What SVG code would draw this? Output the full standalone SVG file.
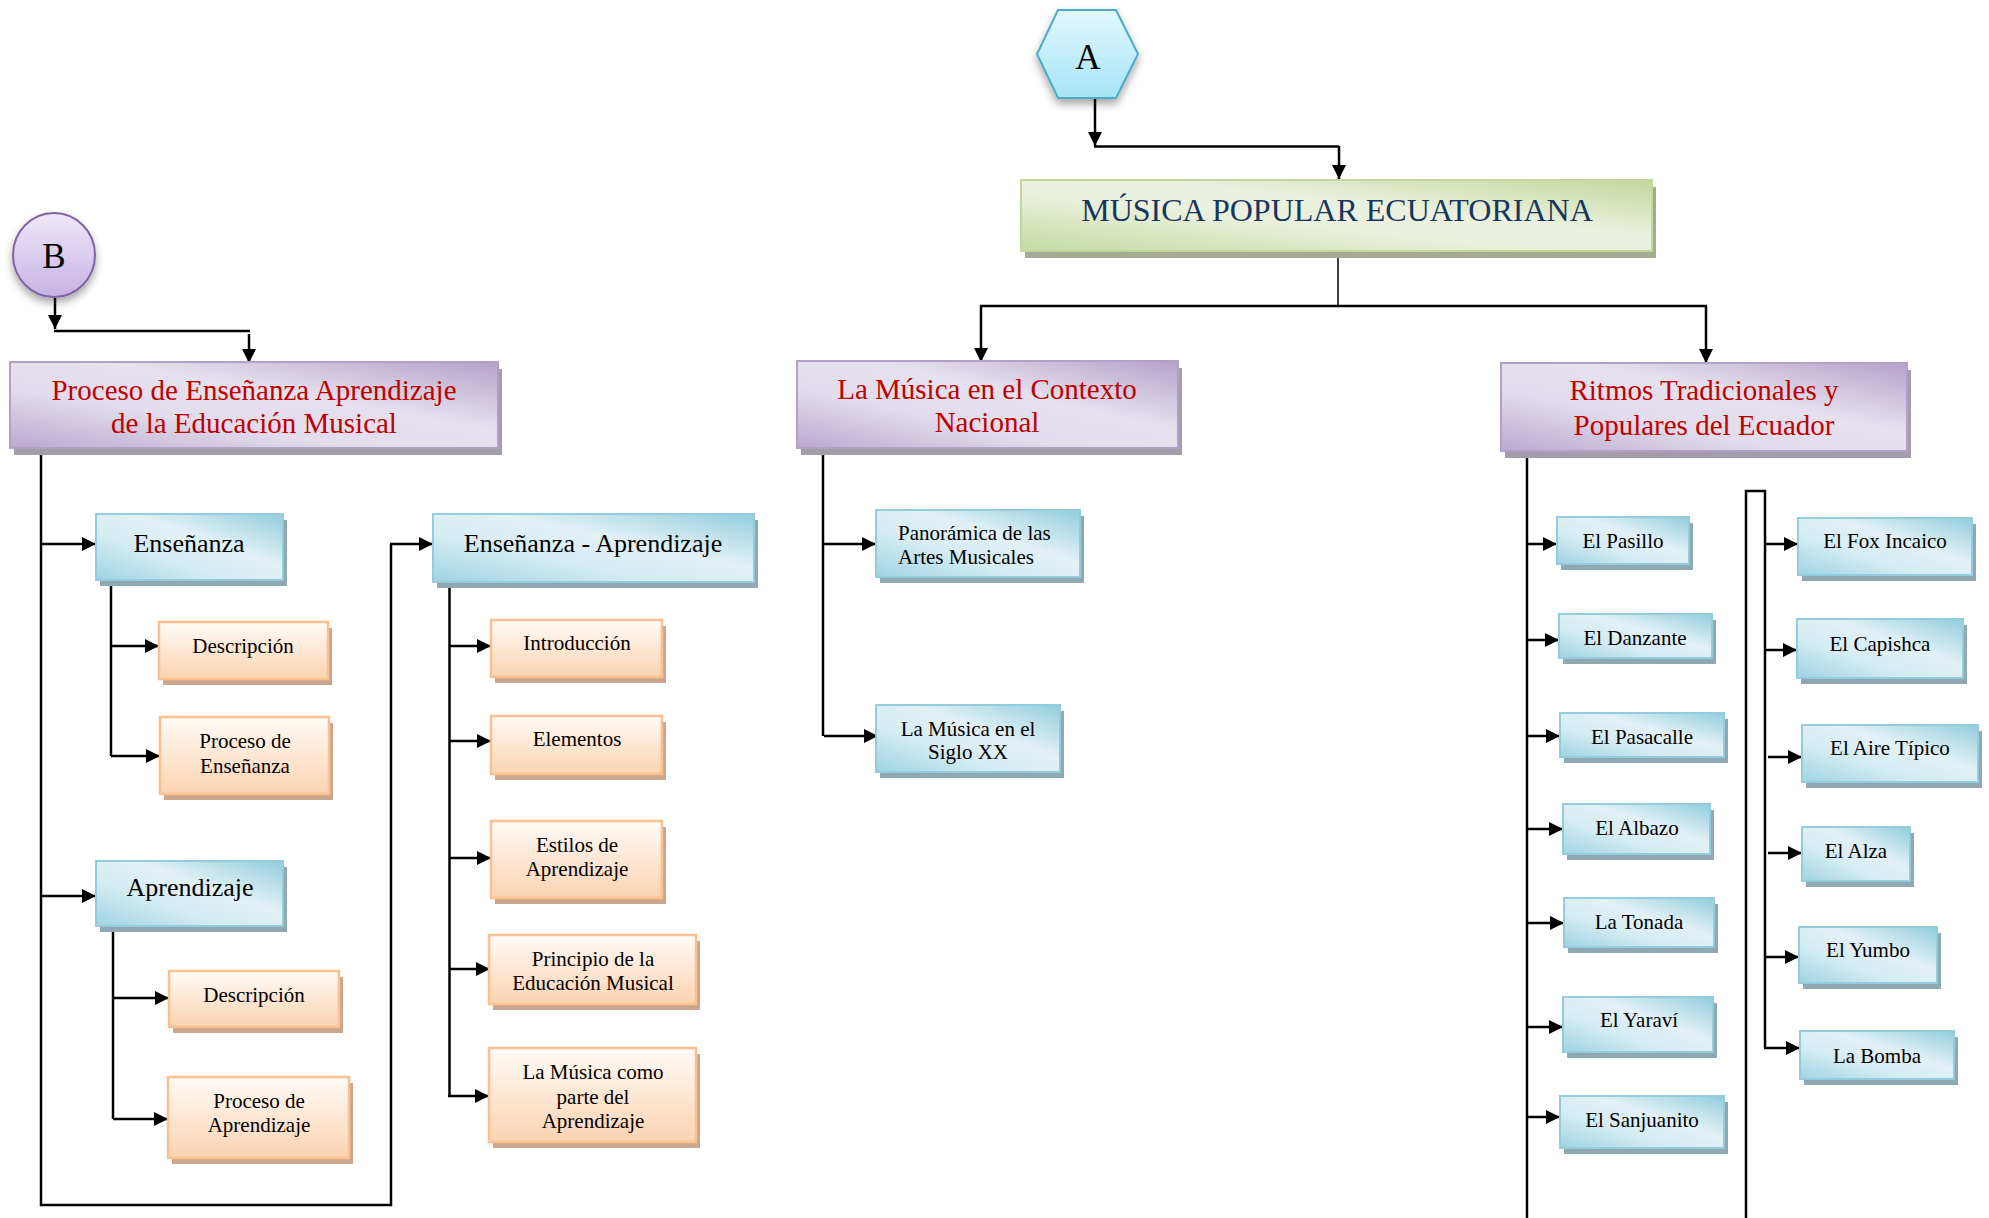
<svg xmlns="http://www.w3.org/2000/svg" width="1989" height="1218" viewBox="0 0 1989 1218">
<defs>
<linearGradient id="gBlue" x1="0" y1="1" x2="1" y2="0">
<stop offset="0" stop-color="#9ed3e2"/>
<stop offset="0.35" stop-color="#d5ecf3"/>
<stop offset="0.6" stop-color="#e2f1f6"/>
<stop offset="1" stop-color="#92cddc"/>
</linearGradient>
<linearGradient id="gOrange" x1="0" y1="0" x2="0" y2="1">
<stop offset="0" stop-color="#fffbf7"/>
<stop offset="1" stop-color="#fbd3b1"/>
</linearGradient>
<linearGradient id="gPurple" x1="0" y1="1" x2="1" y2="0">
<stop offset="0" stop-color="#b9a9cf"/>
<stop offset="0.35" stop-color="#e2dcec"/>
<stop offset="0.6" stop-color="#e6e1ee"/>
<stop offset="1" stop-color="#b3a2c9"/>
</linearGradient>
<linearGradient id="gGreen" x1="0" y1="1" x2="1" y2="0">
<stop offset="0" stop-color="#c5d9a1"/>
<stop offset="0.4" stop-color="#e9f0dc"/>
<stop offset="0.6" stop-color="#ebf1df"/>
<stop offset="1" stop-color="#c3d69b"/>
</linearGradient>
<linearGradient id="gHex" x1="0" y1="0" x2="0" y2="1">
<stop offset="0" stop-color="#e3f7fd"/>
<stop offset="1" stop-color="#a5e5f7"/>
</linearGradient>
<linearGradient id="gCirc" x1="0" y1="0" x2="0" y2="1">
<stop offset="0" stop-color="#eee8f8"/>
<stop offset="1" stop-color="#c6b2e4"/>
</linearGradient>
<filter id="soft" x="-30%" y="-30%" width="160%" height="170%">
<feDropShadow dx="0" dy="5" stdDeviation="4" flood-color="#000" flood-opacity="0.35"/>
</filter>
<marker id="arr" viewBox="0 0 10 10" refX="10" refY="5" markerUnits="userSpaceOnUse" markerWidth="14" markerHeight="14" orient="auto">
<path d="M0,0 L10,5 L0,10 z" fill="#000"/>
</marker>
</defs>
<style>
text{font-family:"Liberation Serif","Times New Roman",serif;text-anchor:middle;fill:#000}
.blue{fill:url(#gBlue);stroke:#93cddd;stroke-width:2}
.bsh{fill:#8fa9b2}
.org{fill:url(#gOrange);stroke:#fac090;stroke-width:2.5}
.osh{fill:#c9a68d}
.pur{fill:url(#gPurple);stroke:#b2a1c7;stroke-width:2}
.psh{fill:#a39cab}
.grn{fill:url(#gGreen);stroke:#c3d69b;stroke-width:2}
.gsh{fill:#a5aa92}
.t29{font-size:29px;fill:#c00000}
.t32{font-size:32px;fill:#17365d}
.t26{font-size:26px}
.t21{font-size:21px}
.ln{fill:none;stroke:#000;stroke-width:2.5}
.la{fill:none;stroke:#000;stroke-width:2.5;marker-end:url(#arr)}
</style>

<g id="connectors">
<path class="la" d="M1095,99 V146"/>
<path class="ln" d="M1094,146.5 H1339"/>
<path class="la" d="M1339,146 V179"/>
<path class="ln" d="M1338,251 V306" style="stroke-width:1.5"/>
<path class="ln" d="M980,306 H1707"/>
<path class="la" d="M981,306 V362"/>
<path class="la" d="M1706,306 V363"/>
<path class="la" d="M55,298 V329"/>
<path class="ln" d="M54,331 H250"/>
<path class="la" d="M249,334 V363"/>
<path class="ln" d="M41,448 V1205 H391 V544"/>
<path class="la" d="M390,544 H433"/>
<path class="la" d="M41,544 H96"/>
<path class="la" d="M41,896 H96"/>
<path class="ln" d="M111,580 V756"/>
<path class="la" d="M111,646 H159"/>
<path class="la" d="M111,756 H160"/>
<path class="ln" d="M113,926 V1119"/>
<path class="la" d="M113,998 H169"/>
<path class="la" d="M113,1119 H168"/>
<path class="ln" d="M449.5,582 V1096"/>
<path class="la" d="M449,646 H491"/>
<path class="la" d="M449,741 H491"/>
<path class="la" d="M449,858 H491"/>
<path class="la" d="M449,969 H490"/>
<path class="la" d="M448,1096 H489"/>
<path class="ln" d="M823,449 V736"/>
<path class="la" d="M823,544 H876"/>
<path class="la" d="M824,736 H878"/>
<path class="ln" d="M1527,451 V1218"/>
<path class="la" d="M1527,544 H1557"/>
<path class="la" d="M1527,640 H1559"/>
<path class="la" d="M1527,736 H1560"/>
<path class="la" d="M1527,829 H1563"/>
<path class="la" d="M1527,923 H1564"/>
<path class="la" d="M1527,1027 H1563"/>
<path class="la" d="M1527,1117 H1560"/>
<path class="ln" d="M1746,1218 V491 H1765 V1048"/>
<path class="la" d="M1765,544 H1798"/>
<path class="la" d="M1765,650 H1797"/>
<path class="la" d="M1768,757 H1802"/>
<path class="la" d="M1768,853 H1802"/>
<path class="la" d="M1765,957 H1799"/>
<path class="la" d="M1764,1048 H1800"/>
</g>

<g id="nodeA">
<polygon points="1058,10 1116,10 1138,54 1116,98 1058,98 1037,54" fill="url(#gHex)" stroke="#4bacc6" stroke-width="2" filter="url(#soft)"/>
<text x="1088" y="69" style="font-size:35px">A</text>
</g>

<g id="nodeB">
<ellipse cx="54" cy="255" rx="41" ry="42" fill="url(#gCirc)" stroke="#8064a2" stroke-width="2" filter="url(#soft)"/>
<text x="54" y="268" style="font-size:35px">B</text>
</g>

<g id="musica-popular">
<rect class="gsh" x="1025" y="187" width="631" height="71"/>
<rect class="grn" x="1021" y="180" width="631" height="71"/>
<text class="t32" x="1337" y="221">MÚSICA POPULAR ECUATORIANA</text>
</g>

<g id="proceso-ea">
<rect class="psh" x="14" y="369" width="488" height="86"/>
<rect class="pur" x="10" y="362" width="488" height="86"/>
<text class="t29" x="254" y="400">Proceso de Enseñanza Aprendizaje</text>
<text class="t29" x="254" y="433">de la Educación Musical</text>
</g>

<g id="contexto-nacional">
<rect class="psh" x="801" y="368" width="381" height="87"/>
<rect class="pur" x="797" y="361" width="381" height="87"/>
<text class="t29" x="987" y="399">La Música en el Contexto</text>
<text class="t29" x="987" y="432">Nacional</text>
</g>

<g id="ritmos">
<rect class="psh" x="1505" y="370" width="406" height="88"/>
<rect class="pur" x="1501" y="363" width="406" height="88"/>
<text class="t29" x="1704" y="400">Ritmos Tradicionales y</text>
<text class="t29" x="1704" y="435">Populares del Ecuador</text>
</g>

<g id="ensenanza">
<rect class="bsh" x="100" y="520" width="187" height="66"/>
<rect class="blue" x="96" y="514" width="187" height="66"/>
<text class="t26" x="189" y="552">Enseñanza</text>
</g>

<g id="aprendizaje">
<rect class="bsh" x="100" y="867" width="187" height="65"/>
<rect class="blue" x="96" y="861" width="187" height="65"/>
<text class="t26" x="190" y="896">Aprendizaje</text>
</g>

<g id="ensenanza-aprendizaje">
<rect class="bsh" x="437" y="520" width="321" height="68"/>
<rect class="blue" x="433" y="514" width="321" height="68"/>
<text class="t26" x="593" y="552">Enseñanza - Aprendizaje</text>
</g>

<g id="descripcion1">
<rect class="osh" x="163" y="628" width="169" height="57"/>
<rect class="org" x="159" y="622" width="169" height="57"/>
<text class="t21" x="243" y="653">Descripción</text>
</g>

<g id="proceso-ensenanza">
<rect class="osh" x="164" y="723" width="169" height="77"/>
<rect class="org" x="160" y="717" width="169" height="77"/>
<text class="t21" x="245" y="748">Proceso de</text>
<text class="t21" x="245" y="773">Enseñanza</text>
</g>

<g id="descripcion2">
<rect class="osh" x="173" y="977" width="170" height="56"/>
<rect class="org" x="169" y="971" width="170" height="56"/>
<text class="t21" x="254" y="1002">Descripción</text>
</g>

<g id="proceso-aprendizaje">
<rect class="osh" x="172" y="1083" width="181" height="81"/>
<rect class="org" x="168" y="1077" width="181" height="81"/>
<text class="t21" x="259" y="1108">Proceso de</text>
<text class="t21" x="259" y="1132">Aprendizaje</text>
</g>

<g id="introduccion">
<rect class="osh" x="495" y="626" width="171" height="57"/>
<rect class="org" x="491" y="620" width="171" height="57"/>
<text class="t21" x="577" y="650">Introducción</text>
</g>

<g id="elementos">
<rect class="osh" x="495" y="722" width="171" height="58"/>
<rect class="org" x="491" y="716" width="171" height="58"/>
<text class="t21" x="577" y="746">Elementos</text>
</g>

<g id="estilos">
<rect class="osh" x="495" y="827" width="171" height="77"/>
<rect class="org" x="491" y="821" width="171" height="77"/>
<text class="t21" x="577" y="852">Estilos de</text>
<text class="t21" x="577" y="876">Aprendizaje</text>
</g>

<g id="principio">
<rect class="osh" x="493" y="941" width="207" height="69"/>
<rect class="org" x="489" y="935" width="207" height="69"/>
<text class="t21" x="593" y="966">Principio de la</text>
<text class="t21" x="593" y="990">Educación Musical</text>
</g>

<g id="musica-parte">
<rect class="osh" x="493" y="1054" width="207" height="94"/>
<rect class="org" x="489" y="1048" width="207" height="94"/>
<text class="t21" x="593" y="1079">La Música como</text>
<text class="t21" x="593" y="1104">parte del</text>
<text class="t21" x="593" y="1128">Aprendizaje</text>
</g>

<g id="panoramica">
<rect class="bsh" x="880" y="516" width="204" height="67"/>
<rect class="blue" x="876" y="510" width="204" height="67"/>
<text class="t21" x="898" y="540" style="text-anchor:start">Panorámica de las</text>
<text class="t21" x="898" y="564" style="text-anchor:start">Artes Musicales</text>
</g>

<g id="siglo-xx">
<rect class="bsh" x="880" y="711" width="184" height="67"/>
<rect class="blue" x="876" y="705" width="184" height="67"/>
<text class="t21" x="968" y="736">La Música en el</text>
<text class="t21" x="968" y="759">Siglo XX</text>
</g>

<g id="pasillo">
<rect class="bsh" x="1561" y="523" width="132" height="47"/>
<rect class="blue" x="1557" y="517" width="132" height="47"/>
<text class="t21" x="1623" y="548">El Pasillo</text>
</g>

<g id="danzante">
<rect class="bsh" x="1563" y="620" width="153" height="44"/>
<rect class="blue" x="1559" y="614" width="153" height="44"/>
<text class="t21" x="1635" y="645">El Danzante</text>
</g>

<g id="pasacalle">
<rect class="bsh" x="1564" y="719" width="164" height="44"/>
<rect class="blue" x="1560" y="713" width="164" height="44"/>
<text class="t21" x="1642" y="744">El Pasacalle</text>
</g>

<g id="albazo">
<rect class="bsh" x="1567" y="810" width="147" height="50"/>
<rect class="blue" x="1563" y="804" width="147" height="50"/>
<text class="t21" x="1637" y="835">El Albazo</text>
</g>

<g id="tonada">
<rect class="bsh" x="1568" y="904" width="150" height="49"/>
<rect class="blue" x="1564" y="898" width="150" height="49"/>
<text class="t21" x="1639" y="929">La Tonada</text>
</g>

<g id="yaravi">
<rect class="bsh" x="1567" y="1003" width="150" height="55"/>
<rect class="blue" x="1563" y="997" width="150" height="55"/>
<text class="t21" x="1639" y="1027">El Yaraví</text>
</g>

<g id="sanjuanito">
<rect class="bsh" x="1564" y="1102" width="164" height="52"/>
<rect class="blue" x="1560" y="1096" width="164" height="52"/>
<text class="t21" x="1642" y="1127">El Sanjuanito</text>
</g>

<g id="fox-incaico">
<rect class="bsh" x="1802" y="524" width="174" height="57"/>
<rect class="blue" x="1798" y="518" width="174" height="57"/>
<text class="t21" x="1885" y="548">El Fox Incaico</text>
</g>

<g id="capishca">
<rect class="bsh" x="1801" y="625" width="166" height="59"/>
<rect class="blue" x="1797" y="619" width="166" height="59"/>
<text class="t21" x="1880" y="651">El Capishca</text>
</g>

<g id="aire-tipico">
<rect class="bsh" x="1806" y="731" width="176" height="57"/>
<rect class="blue" x="1802" y="725" width="176" height="57"/>
<text class="t21" x="1890" y="755">El Aire Típico</text>
</g>

<g id="alza">
<rect class="bsh" x="1806" y="833" width="108" height="54"/>
<rect class="blue" x="1802" y="827" width="108" height="54"/>
<text class="t21" x="1856" y="858">El Alza</text>
</g>

<g id="yumbo">
<rect class="bsh" x="1803" y="933" width="138" height="56"/>
<rect class="blue" x="1799" y="927" width="138" height="56"/>
<text class="t21" x="1868" y="957">El Yumbo</text>
</g>

<g id="bomba">
<rect class="bsh" x="1804" y="1037" width="154" height="48"/>
<rect class="blue" x="1800" y="1031" width="154" height="48"/>
<text class="t21" x="1877" y="1063">La Bomba</text>
</g>
</svg>
